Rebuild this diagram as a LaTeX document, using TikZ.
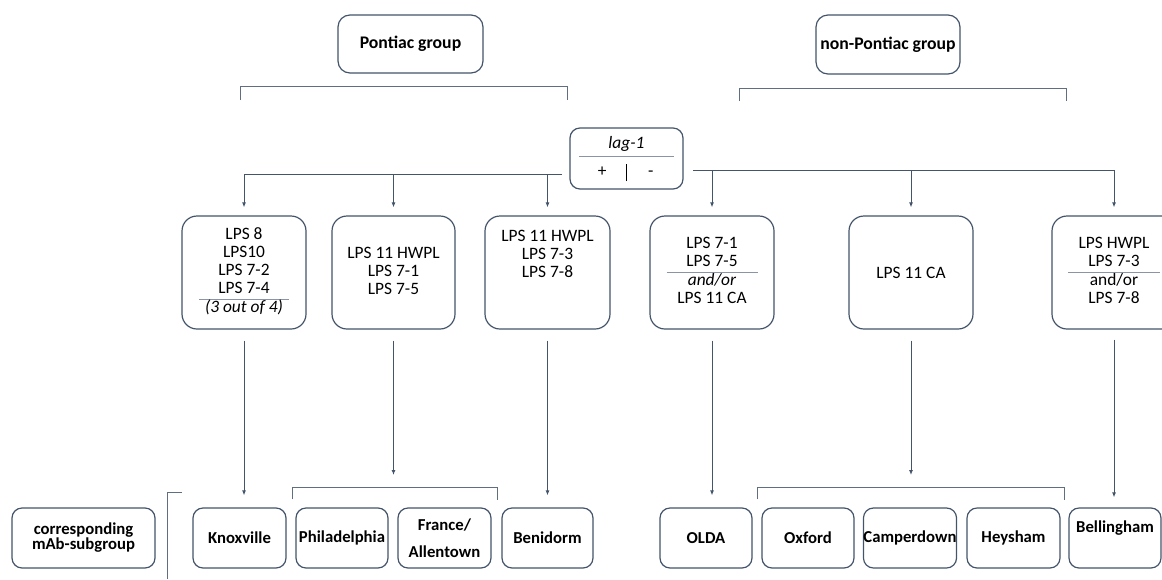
\documentclass[tikz,border=0pt]{standalone}
\usepackage{fontspec}
\setmainfont{Carlito}
\usepackage{colortbl}
\usetikzlibrary{arrows.meta}
\definecolor{slate}{HTML}{44546A}
\definecolor{ruleGray}{HTML}{8A94A6}
\arrayrulecolor{ruleGray}
\setlength{\arrayrulewidth}{0.8pt}
\newcolumntype{M}[1]{>{\centering\arraybackslash}p{#1}}
\newcommand{\lagSplit}[0]{\makebox[47pt]{+}\rule[-5pt]{1.4pt}{17pt}\makebox[47pt]{-}}

\begin{document}
\begin{tikzpicture}[x=1pt, y=-1pt, font=\fontsize{17.4}{18}\selectfont]
  \tikzset{
    group box/.style={draw=slate, line width=1.2pt, rounded corners=12pt, minimum width=145pt, minimum height=58pt, inner sep=0pt, font=\fontsize{17.7}{18}\selectfont\bfseries},
    lag box/.style={draw=slate, line width=1.2pt, rounded corners=10pt, minimum width=113pt, minimum height=61pt, inner sep=0pt},
    lps box/.style={draw=slate, line width=1.2pt, rounded corners=15pt, minimum width=124pt, minimum height=113pt, inner sep=0pt, align=center},
    mab box/.style={draw=slate, line width=1.2pt, rounded corners=10pt, minimum width=92pt, minimum height=60pt, inner sep=0pt, align=center, font=\fontsize{16.7}{18}\selectfont\bfseries},
    link/.style={draw=slate, line width=1pt},
    arr/.style={link, -{Latex[length=5pt,width=4pt]}},
    bracket/.style={draw=slate!85, line width=0.9pt}
  }
  \useasboundingbox (0,0) rectangle (1162,579);
  \clip (0,0) rectangle (1162,579);

  \node[group box] (pont) at (410.5,44) {Pontiac group};
  \node[group box, minimum width=144pt, minimum height=59pt] (nonp) at (888,44.5) {non-Pontiac group};
  \draw[bracket] (240,100) -- (240,86) -- (567,86) -- (567,100);
  \draw[bracket] (739,101) -- (739,88) -- (1066,88) -- (1066,101);

  \node[lag box] (lag) at (626.5,158.5) {\begin{tabular}{@{}c@{}}\textit{lag-1}\\[3pt]\hline\rule{0pt}{19pt}\lagSplit\end{tabular}};

  \node[lps box] (b1) at (244,272.5) {\begin{tabular}{@{}M{90pt}@{}}LPS 8\\LPS10\\LPS 7-2\\LPS 7-4\\\hline\textit{(3 out of 4)}\end{tabular}};
  \node[lps box, minimum width=123pt] (b2) at (393.5,272.5) {\begin{tabular}{@{}c@{}}LPS 11 HWPL\\LPS 7-1\\LPS 7-5\end{tabular}};
  \node[lps box, minimum width=125pt] (b3) at (547.5,272.5) {\raisebox{16.5pt}[\height][\depth]{\begin{tabular}{@{}c@{}}LPS 11 HWPL\\LPS 7-3\\LPS 7-8\end{tabular}}};
  \node[lps box] (b4) at (712,272.5) {\begin{tabular}{@{}M{91pt}@{}}LPS 7-1\\LPS 7-5\\\hline\textit{and/or}\\LPS 11 CA\end{tabular}};
  \node[lps box] (b5) at (911,272.5) {LPS 11 CA};
  \node[lps box] (b6) at (1114,272.5) {\begin{tabular}{@{}M{92pt}@{}}LPS HWPL\\LPS 7-3\\\hline and/or\\LPS 7-8\end{tabular}};

  \coordinate (busL) at (562,174);
  \coordinate (busR) at (693,170);
  \draw[link] (busL) -- (b1.north |- busL);
  \foreach \b in {b1,b2,b3}
    \draw[arr, shorten >=8pt] (\b.north |- busL) -- (\b.north);
  \draw[link] (busR) -- (b6.north |- busR);
  \foreach \b in {b4,b5,b6}
    \draw[arr, shorten >=8pt] (\b.north |- busR) -- (\b.north);

  \node[mab box, minimum width=143pt] (corr) at (83.5,538) {corresponding\\[-3pt]mAb-subgroup};
  \node[mab box, minimum width=93pt] (knox) at (239.5,538) {Knoxville};
  \node[mab box] (phil) at (342,538) {Philadelphia};
  \node[mab box, minimum width=93pt] (fran) at (444.5,538) {France/\\[9pt]Allentown};
  \node[mab box, minimum width=91pt] (beni) at (547.5,538) {Benidorm};
  \node[mab box] (olda) at (706,538) {OLDA};
  \node[mab box] (oxf) at (808,538) {Oxford};
  \node[mab box] (camp) at (910,538) {Camperdown};
  \node[mab box, minimum width=93pt] (heys) at (1013.5,538) {Heysham};
  \node[mab box] (bell) at (1115,538) {\raisebox{10pt}[\height][\depth]{Bellingham}};

  \draw[bracket] (182,492) -- (167,492) -- (167,579);
  \coordinate (brkPl) at (292,487);
  \coordinate (brkPr) at (497,487);
  \coordinate (brkNl) at (757,487);
  \coordinate (brkNr) at (1064,487);
  \draw[bracket] (brkPl |- phil.north) ++(0,-8) -- (brkPl) -- (brkPr) -- ++(0,13);
  \draw[bracket] (brkNl |- oxf.north) ++(0,-8) -- (brkNl) -- (brkNr) -- ++(0,13);

  \draw[arr, shorten <=11pt, shorten >=12pt] (b1.south) -- (b1.south |- knox.north);
  \draw[arr, shorten <=11pt, shorten >=12pt] (b2.south) -- (b2.south |- brkPl);
  \draw[arr, shorten <=11pt, shorten >=12pt] (b3.south) -- (b3.south |- beni.north);
  \draw[arr, shorten <=11pt, shorten >=12pt] (b4.south) -- (b4.south |- olda.north);
  \draw[arr, shorten <=11pt, shorten >=12pt] (b5.south) -- (b5.south |- brkNl);
  \draw[arr, shorten <=10pt, shorten >=10pt] (b6.south) -- (b6.south |- bell.north);
\end{tikzpicture}
\end{document}
